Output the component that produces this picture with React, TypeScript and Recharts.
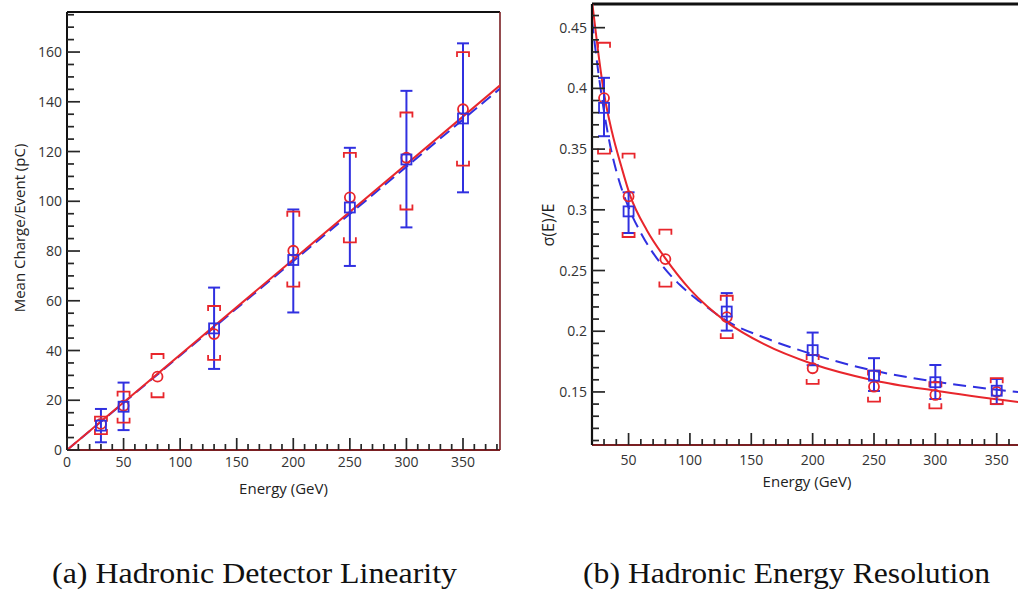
import React from 'react';
import { ComposedChart, Line, Scatter, XAxis, YAxis, ErrorBar, ReferenceLine } from 'recharts';

const RED = '#e8262c';
const BLUE = '#3030e0';
const AXIS_RED = '#7a1f22';
const TICK = '#262626';
const FONT = "'Open Sans', 'DejaVu Sans', sans-serif";

// ---------- Panel (a): Hadronic Detector Linearity ----------
const linEnergyRed = [30, 50, 80, 130, 200, 250, 300, 350];
const linChargeRed = [10.5, 17.8, 29.5, 46.6, 80.1, 101.6, 117.5, 137.0];
const linRedHigh = [13.4, 23.5, 38.6, 57.9, 95.8, 119.5, 135.7, 160.0];
const linRedLow = [6.4, 11.0, 21.2, 36.2, 65.7, 83.5, 96.7, 114.3];

const linEnergyBlue = [30, 50, 130, 200, 250, 300, 350];
const linChargeBlue = [9.8, 17.4, 48.9, 76.4, 97.5, 116.8, 133.3];
const linBlueHigh = [16.5, 27.1, 65.3, 96.7, 121.5, 144.4, 163.5];
const linBlueLow = [3.1, 8.0, 32.6, 55.3, 74.0, 89.5, 103.6];

const linFitRedX = [0, 383];
const linFitRedY = [0, 146.7];
const linFitBlueX = [0, 383];
const linFitBlueY = [0, 145.4];

const linXMajor = [0, 50, 100, 150, 200, 250, 300, 350];
const linYMajor = [0, 20, 40, 60, 80, 100, 120, 140, 160];
const linXDomain: [number, number] = [0, 382.7];
const linYDomain: [number, number] = [0, 176.1];

// ---------- Panel (b): Hadronic Energy Resolution ----------
const resEnergyRed = [30, 50, 80, 130, 200, 250, 300, 350];
const resRed = [0.392, 0.311, 0.2594, 0.2116, 0.1695, 0.1543, 0.1475, 0.15];
const resRedHigh = [0.4376, 0.3463, 0.2836, 0.2292, 0.1805, 0.1676, 0.158, 0.1613];
const resRedLow = [0.3463, 0.2776, 0.2368, 0.1943, 0.1566, 0.142, 0.1365, 0.14];

const resEnergyBlue = [30, 50, 130, 200, 250, 300, 350];
const resBlue = [0.384, 0.2987, 0.2162, 0.1844, 0.1634, 0.158, 0.151];
const resBlueHigh = [0.4087, 0.3144, 0.2314, 0.1989, 0.1778, 0.1722, 0.1607];
const resBlueLow = [0.3606, 0.2809, 0.2005, 0.172, 0.1508, 0.1442, 0.14];

const resFitRedX = [20.5, 25, 30, 36.5, 44, 51, 65, 80, 100, 114, 130, 160, 200, 250, 300, 371];
const resFitRedY = [0.4695, 0.432, 0.396, 0.364, 0.336, 0.3125, 0.283, 0.26, 0.2345, 0.2205, 0.2075, 0.1895, 0.173, 0.1595, 0.151, 0.1413];
const resFitBlueX = [20.2, 25, 30, 35, 40, 50, 60, 76, 92, 108, 130, 160, 200, 250, 300, 371];
const resFitBlueY = [0.456, 0.416, 0.381, 0.353, 0.332, 0.302, 0.281, 0.256, 0.238, 0.2245, 0.2085, 0.195, 0.181, 0.1675, 0.1585, 0.1495];

const resXMajor = [50, 100, 150, 200, 250, 300, 350];
const resYMajor = [0.15, 0.2, 0.25, 0.3, 0.35, 0.4, 0.45];
const resXDomain: [number, number] = [20.2, 370.6];
const resYDomain: [number, number] = [0.1063, 0.4695];

// ---------- helpers ----------
const range = (from: number, to: number, step: number, dec: number) => {
  const out: number[] = [];
  for (let v = from; v <= to + step / 1000; v += step) out.push(Number(v.toFixed(dec)));
  return out;
};
const linXTicks = range(0, 380, 10, 0);
const linYTicks = range(0, 175, 5, 0);
const resXTicks = range(30, 370, 10, 0);
const resYTicks = range(0.11, 0.46, 0.01, 2);

const points = (xs: number[], ys: number[]) => xs.map((x, i) => ({ x, y: ys[i] }));
const withErr = (xs: number[], ys: number[], lo: number[], hi: number[]) =>
  xs.map((x, i) => ({ x, y: ys[i], err: [ys[i] - lo[i], hi[i] - ys[i]] }));

const isMajor = (major: number[], v: number) => major.some((m) => Math.abs(m - v) < 1e-6);

const makeYTick = (major: number[], gap: number) => (props: any) => {
  const { x, y, payload } = props;
  const v = payload.value;
  const mj = isMajor(major, v);
  return (
    <g>
      <line x1={x} x2={x + (mj ? 13 : 7)} y1={y} y2={y} stroke={TICK} strokeWidth={1.7} />
      {mj ? (
        <text x={x - gap} y={y} dy="0.36em" textAnchor="end" fontFamily={FONT} fontSize={14} fill="#333">
          {String(v)}
        </text>
      ) : null}
    </g>
  );
};

const makeXTick = (major: number[], gap: number) => (props: any) => {
  const { x, y, payload } = props;
  const v = payload.value;
  const mj = isMajor(major, v);
  return (
    <g>
      <line x1={x} x2={x} y1={y} y2={y - (mj ? 12 : 6)} stroke={TICK} strokeWidth={1.7} />
      {mj ? (
        <text x={x} y={y + gap} dy="0.36em" textAnchor="middle" fontFamily={FONT} fontSize={14} fill="#333">
          {String(v)}
        </text>
      ) : null}
    </g>
  );
};

const Circle = (props: any) => (
  <circle cx={props.cx} cy={props.cy} r={5} fill="none" stroke={RED} strokeWidth={1.8} />
);
const Square = (props: any) => (
  <rect x={props.cx - 5} y={props.cy - 5} width={10} height={10} fill="none" stroke={BLUE} strokeWidth={1.8} />
);
const TopBracket = (props: any) => (
  <path
    d={`M${props.cx - 6},${props.cy + 5} V${props.cy} H${props.cx + 6} V${props.cy + 5}`}
    fill="none"
    stroke={RED}
    strokeWidth={1.8}
  />
);
const BottomBracket = (props: any) => (
  <path
    d={`M${props.cx - 6},${props.cy - 5} V${props.cy} H${props.cx + 6} V${props.cy - 5}`}
    fill="none"
    stroke={RED}
    strokeWidth={1.8}
  />
);

// ---------- Panel A ----------
const PanelA = () => (
  <ComposedChart width={515} height={500} margin={{ top: 12, right: 15, bottom: 20, left: 0 }}>
    <XAxis
      type="number"
      dataKey="x"
      domain={linXDomain}
      allowDataOverflow
      ticks={linXTicks}
      interval={0}
      tickSize={0}
      tickMargin={0}
      tickLine={false}
      height={30}
      axisLine={{ stroke: AXIS_RED, strokeWidth: 2 }}
      tick={makeXTick(linXMajor, 12)}
      label={() => (
        <text x={283.5} y={489} dy="0.36em" textAnchor="middle" fontFamily={FONT} fontSize={15} fill="#222">
          Energy (GeV)
        </text>
      )}
    />
    <YAxis
      type="number"
      dataKey="y"
      domain={linYDomain}
      allowDataOverflow
      ticks={linYTicks}
      interval={0}
      tickSize={0}
      tickMargin={0}
      tickLine={false}
      width={67}
      axisLine={{ stroke: '#111', strokeWidth: 2 }}
      tick={makeYTick(linYMajor, 5)}
      label={() => (
        <text
          x={20}
          y={228}
          dy="0.36em"
          textAnchor="middle"
          transform="rotate(-90 20 228)"
          fontFamily={FONT}
          fontSize={15}
          fill="#222"
        >
          Mean Charge/Event (pC)
        </text>
      )}
    />
    <ReferenceLine y={linYDomain[1]} stroke="#111" strokeWidth={2} />
    <ReferenceLine x={linXDomain[1]} stroke={AXIS_RED} strokeWidth={1.6} />
    <Line
      data={points(linFitBlueX, linFitBlueY)}
      dataKey="y"
      type="linear"
      stroke={BLUE}
      strokeWidth={2}
      strokeDasharray="12 6"
      dot={false}
      isAnimationActive={false}
    />
    <Line
      data={points(linFitRedX, linFitRedY)}
      dataKey="y"
      type="linear"
      stroke={RED}
      strokeWidth={2}
      dot={false}
      isAnimationActive={false}
    />
    <Scatter data={points(linEnergyRed, linRedHigh)} dataKey="y" shape={TopBracket} isAnimationActive={false} />
    <Scatter data={points(linEnergyRed, linRedLow)} dataKey="y" shape={BottomBracket} isAnimationActive={false} />
    <Scatter data={points(linEnergyRed, linChargeRed)} dataKey="y" shape={Circle} isAnimationActive={false} />
    <Scatter
      data={withErr(linEnergyBlue, linChargeBlue, linBlueLow, linBlueHigh)}
      dataKey="y"
      shape={Square}
      isAnimationActive={false}
    >
      <ErrorBar dataKey="err" direction="y" width={6} stroke={BLUE} strokeWidth={2} isAnimationActive={false} />
    </Scatter>
  </ComposedChart>
);

// ---------- Panel B ----------
const PanelB = () => (
  <ComposedChart width={512} height={500} margin={{ top: 4, right: 10, bottom: 25, left: 0 }}>
    <XAxis
      type="number"
      dataKey="x"
      domain={resXDomain}
      allowDataOverflow
      ticks={resXTicks}
      interval={0}
      tickSize={0}
      tickMargin={0}
      tickLine={false}
      height={30}
      axisLine={{ stroke: AXIS_RED, strokeWidth: 2.2 }}
      tick={makeXTick(resXMajor, 15)}
      label={() => (
        <text x={287} y={482} dy="0.36em" textAnchor="middle" fontFamily={FONT} fontSize={15} fill="#222">
          Energy (GeV)
        </text>
      )}
    />
    <YAxis
      type="number"
      dataKey="y"
      domain={resYDomain}
      allowDataOverflow
      ticks={resYTicks}
      interval={0}
      tickSize={0}
      tickMargin={0}
      tickLine={false}
      width={72}
      axisLine={{ stroke: '#111', strokeWidth: 2.2 }}
      tick={makeYTick(resYMajor, 5)}
      label={() => (
        <text
          x={28}
          y={225}
          dy="0.36em"
          textAnchor="middle"
          transform="rotate(-90 28 225)"
          fontFamily={FONT}
          fontSize={16}
          fill="#222"
        >
          σ(E)/E
        </text>
      )}
    />
    <ReferenceLine y={resYDomain[1]} stroke="#111" strokeWidth={3} />
    <Line
      data={points(resFitBlueX, resFitBlueY)}
      dataKey="y"
      type="monotone"
      stroke={BLUE}
      strokeWidth={2}
      strokeDasharray="13 7"
      dot={false}
      isAnimationActive={false}
    />
    <Line
      data={points(resFitRedX, resFitRedY)}
      dataKey="y"
      type="monotone"
      stroke={RED}
      strokeWidth={2}
      dot={false}
      isAnimationActive={false}
    />
    <Scatter data={points(resEnergyRed, resRedHigh)} dataKey="y" shape={TopBracket} isAnimationActive={false} />
    <Scatter data={points(resEnergyRed, resRedLow)} dataKey="y" shape={BottomBracket} isAnimationActive={false} />
    <Scatter data={points(resEnergyRed, resRed)} dataKey="y" shape={Circle} isAnimationActive={false} />
    <Scatter
      data={withErr(resEnergyBlue, resBlue, resBlueLow, resBlueHigh)}
      dataKey="y"
      shape={Square}
      isAnimationActive={false}
    >
      <ErrorBar dataKey="err" direction="y" width={6} stroke={BLUE} strokeWidth={2} isAnimationActive={false} />
    </Scatter>
  </ComposedChart>
);

const captions = ['(a) Hadronic Detector Linearity', '(b) Hadronic Energy Resolution'];
const CAPTION_FONT = "'Liberation Serif', 'Times New Roman', Times, serif";

export default function App() {
  return (
    <div
      style={{
        position: 'absolute',
        left: 0,
        top: 0,
        width: 1018,
        height: 594,
        overflow: 'hidden',
        background: '#fff',
      }}
    >
      <div style={{ position: 'absolute', left: 0, top: 0 }}>
        <PanelA />
      </div>
      <div style={{ position: 'absolute', left: 520, top: 0 }}>
        <PanelB />
      </div>
      <svg width={1018} height={60} style={{ position: 'absolute', left: 0, top: 534 }}>
        <text
          x={52}
          y={49}
          fontFamily={CAPTION_FONT}
          fontSize={29}
          textLength={405}
          lengthAdjust="spacingAndGlyphs"
          fill="#111"
        >
          {captions[0]}
        </text>
        <text
          x={583}
          y={49}
          fontFamily={CAPTION_FONT}
          fontSize={29}
          textLength={407}
          lengthAdjust="spacingAndGlyphs"
          fill="#111"
        >
          {captions[1]}
        </text>
      </svg>
    </div>
  );
}
